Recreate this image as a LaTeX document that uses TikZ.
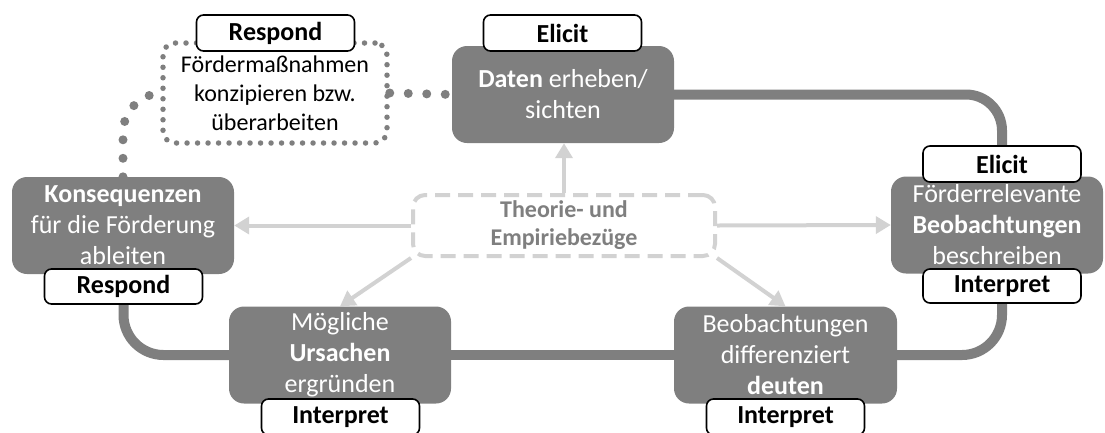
\documentclass[tikz,border=0pt]{standalone}
\usepackage{fontspec}
\setmainfont{Carlito}
\usetikzlibrary{arrows.meta,backgrounds}
\definecolor{boxgray}{RGB}{127,127,127}
\definecolor{palegray}{RGB}{210,210,210}
\begin{document}
\begin{tikzpicture}[x=1pt,y=-1pt,
  stepbox/.style={fill=boxgray, rounded corners=15pt, text=white, align=center,
    inner sep=0pt, minimum width=222pt, minimum height=97pt,
    font=\fontsize{26}{31}\selectfont},
  tag/.style={draw=black, line width=1.6pt, fill=white, rounded corners=7pt,
    minimum width=158pt, minimum height=36pt, inner sep=0pt,
    font=\fontsize{26}{31}\selectfont\bfseries},
  dotbox/.style={draw=boxgray, line width=5.5pt, line cap=round,
    dash pattern=on 0pt off 10.5pt, rounded corners=12pt,
    minimum width=224pt, minimum height=100pt, inner sep=0pt, align=center,
    font=\fontsize{24}{29}\selectfont},
  dotconn/.style={draw=boxgray, line width=9pt, line cap=round,
    dash pattern=on 0pt off 18.5pt},
  thickconn/.style={draw=boxgray, line width=10pt},
  theobox/.style={draw=palegray, line width=4pt, dash pattern=on 15pt off 8pt,
    rounded corners=12pt, fill=white, minimum width=302pt, minimum height=61pt,
    inner sep=0pt, align=center, text=boxgray,
    font=\fontsize{24}{28}\selectfont\bfseries},
  lightarrow/.style={draw=palegray, line width=4pt,
    -{Triangle[width=17pt,length=15pt]}}
]
\useasboundingbox (0,0) rectangle (1105,432);

% dotted box
\node[dotbox] (fdm) at (275,93) {Fördermaßnahmen\\konzipieren bzw.\\überarbeiten};

% theory box
\node[theobox] (theo) at (564,225.5) {Theorie- und\\Empiriebezüge};

% grey step boxes
\node[stepbox] (daten) at (563,94.5) {\textbf{Daten} erheben/\\sichten};
\node[stepbox] (kons) at (123,225.5) {\textbf{Konsequenzen}\\für die Förderung\\ableiten};
\node[stepbox, minimum width=212pt] (foerd) at (997,225) {Förderrelevante\\\textbf{Beobachtungen}\\beschreiben};
\node[stepbox] (moeg) at (340,355) {Mögliche\\\textbf{Ursachen}\\ergründen};
\node[stepbox, minimum width=223pt] (beob) at (785.5,355) {Beobachtungen\\differenziert\\\textbf{deuten}};

% tags
\node[tag] (respT) at (275.5,33) {Respond};
\node[tag] (eliT) at (562.5,33) {Elicit};
\node[tag] (eliR) at (1002,164) {Elicit};
\node[tag, minimum height=34pt] (intR) at (1002,286) {Interpret};
\node[tag, minimum height=35pt] (respL) at (123.5,286.5) {Respond};
\node[tag] (intBL) at (340.5,417) {Interpret};
\node[tag] (intBR) at (785.5,417) {Interpret};

\begin{pgfonlayer}{background}
  % thick cycle connectors
  \draw[thickconn, rounded corners=36pt] (daten.east) -| (eliR.north);
  \draw[thickconn, rounded corners=40pt] (intR.south) |- (beob.east);
  \draw[thickconn] (moeg.east) -- (beob.west);
  \draw[thickconn, rounded corners=40pt] (respL.south) |- (moeg.west);
  % dotted connectors
  \draw[dotconn] (fdm.east) -- (daten.west);
  \draw[dotconn, rounded corners=40pt] (kons.north) |- (fdm.west);
  % light arrows
  \draw[lightarrow] (theo.north) -- (theo.north |- daten.south);
  \draw[lightarrow] (theo.west) -- (kons.east);
  \draw[lightarrow] (theo.east) -- (foerd.west);
  \draw[lightarrow] (theo.south west) -- (moeg.north);
  \draw[lightarrow] (theo.south east) -- (beob.north);
\end{pgfonlayer}
\end{tikzpicture}
\end{document}
